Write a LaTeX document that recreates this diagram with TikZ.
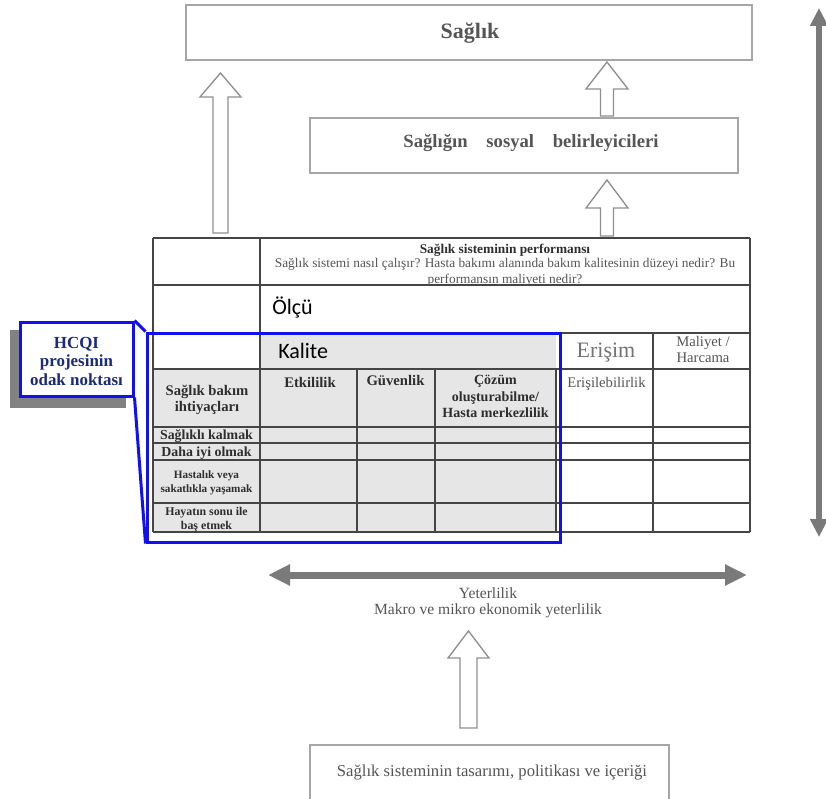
\documentclass[tikz,border=0pt]{standalone}
\usepackage{fontspec}
\setmainfont{Liberation Serif}
\newfontfamily\calib{Carlito}
\usetikzlibrary{arrows.meta}
\definecolor{boxgray}{HTML}{A6A6A6}
\definecolor{arrgray}{HTML}{8F8F8F}
\definecolor{tabline}{HTML}{454545}
\definecolor{txtgray}{HTML}{555555}
\definecolor{darktxt}{HTML}{2E2E2E}
\definecolor{cellgray}{HTML}{E6E6E6}
\definecolor{hqblue}{HTML}{1010F0}
\definecolor{hqnavy}{HTML}{1C2A7A}
\definecolor{bigarrow}{HTML}{7A7A7A}
\definecolor{shadowgray}{HTML}{828282}
\newcommand\setfs[2]{\fontsize{#1}{#2}\selectfont}
\newcommand\blkarrow[6]{\draw[hollowarrow] (#1,#2) -- (#1+#6,#3) -- (#1+#5,#3) -- (#1+#5,#4) -- (#1-#5,#4) -- (#1-#5,#3) -- (#1-#6,#3) -- cycle;}
\begin{document}
\begin{tikzpicture}[x=0.75pt,y=-0.75pt,
  box/.style={draw=boxgray,line width=1.1pt,fill=white,inner sep=0pt},
  hollowarrow/.style={draw=arrgray,line width=1pt,fill=white},
  tline/.style={draw=tabline,line width=0.8pt},
  lbl/.style={inner sep=0pt,text=txtgray,anchor=base},
  hdr/.style={inner sep=0pt,text=darktxt,anchor=base,font=\bfseries\setfs{11}{13}},
  rowlbl/.style={inner sep=0pt,text=darktxt,anchor=base},
  bigarr/.style={draw=bigarrow,line width=5.25pt,{Triangle[length=16.5pt,width=15pt]}-{Triangle[length=16.5pt,width=15pt]}},
  vertarr/.style={draw=bigarrow,line width=4.5pt,{Triangle[length=13.5pt,width=12.75pt]}-{Triangle[length=13.5pt,width=12.75pt]}},
]
\useasboundingbox (0,0) rectangle (826,799);
\fill[white] (0,0) rectangle (826,799);

% top boxes
\node[box,minimum width=424.5pt,minimum height=41.25pt] (saglik) at (469,32.5) {};
\node[lbl,font=\bfseries\setfs{16.5}{19}] (saglikt) at (470,39) {Sağlık};
\node[box,minimum width=321pt,minimum height=41.25pt] (sosyal) at (524,145.5) {};
\node[lbl,font=\bfseries\setfs{14}{17}] (sosyalt) at (531,147) {Sağlığın\hspace{14pt}sosyal\hspace{14pt}belirleyicileri};

% hollow arrows
\blkarrow{220.5}{73}{97}{233}{7.5}{20.5}
\blkarrow{607}{62}{89}{116}{6.5}{21}
\blkarrow{607}{180}{208}{236}{6.5}{21}
\blkarrow{468.5}{631}{658}{728}{8.5}{20.5}

% table fills
\fill[cellgray] (153,369) rectangle (556,532);
\fill[cellgray] (260,333) rectangle (556,369);
% table lines
\foreach \yy in {238,285,333,369,427,443,460,503,532}
  \draw[tline] (153,\yy) -- (750,\yy);
\draw[tline] (153,238) -- (153,532);
\draw[tline] (260,238) -- (260,532);
\draw[tline] (750,238) -- (750,532);
\draw[tline] (653,333) -- (653,532);
\draw[tline] (357,369) -- (357,532);
\draw[tline] (435,369) -- (435,532);
\draw[tline,line width=1.5pt] (556,369) -- (556,532);

% table texts
\node[lbl,text=darktxt,font=\bfseries\setfs{10}{12}] (perf1) at (505,253) {Sağlık sisteminin performansı};
\node[lbl,font=\setfs{10}{12}] (perf2) at (505,267.5) {Sağlık sistemi nasıl çalışır? Hasta bakımı alanında bakım kalitesinin düzeyi nedir? Bu};
\node[lbl,font=\setfs{10}{12}] (perf3) at (505,283) {performansın maliyeti nedir?};
\node[lbl,text=black,anchor=base west,font=\calib\setfs{16.5}{19}] (olcu) at (272,315) {Ölçü};
\node[lbl,text=black,anchor=base west,font=\calib\setfs{16.5}{19}] (kalite) at (278,358) {Kalite};
\node[lbl,text=black!55,font=\setfs{16.5}{19}] (erisim) at (606,357) {Erişim};
\node[lbl,font=\setfs{11}{13}] (maliyet1) at (703,346) {Maliyet /};
\node[lbl,font=\setfs{11}{13}] (maliyet2) at (703,362) {Harcama};
\node[lbl,font=\setfs{11}{13}] (erisil) at (606.5,387) {Erişilebilirlik};

\node[hdr] (etk) at (310,387) {Etkililik};
\node[hdr] (guv) at (395.5,385) {Güvenlik};
\node[hdr,font=\bfseries\setfs{10.5}{12}] (coz1) at (495.5,384) {Çözüm};
\node[hdr,font=\bfseries\setfs{10.5}{12}] (coz2) at (495.5,401) {oluşturabilme/};
\node[hdr,font=\bfseries\setfs{10.5}{12}] (coz3) at (495.5,417) {Hasta merkezlilik};

\node[rowlbl,font=\bfseries\setfs{11}{13}] (ihty1) at (207,395) {Sağlık bakım};
\node[rowlbl,font=\bfseries\setfs{11}{13}] (ihty2) at (207,411) {ihtiyaçları};
\node[rowlbl,font=\bfseries\setfs{10.4}{12}] (row1) at (206.5,439) {Sağlıklı kalmak};
\node[rowlbl,font=\bfseries\setfs{10.4}{12}] (row2) at (206.5,456) {Daha iyi olmak};
\node[rowlbl,font=\bfseries\setfs{8.4}{10}] (row3a) at (206.5,478) {Hastalık veya};
\node[rowlbl,font=\bfseries\setfs{8.4}{10}] (row3b) at (206.5,492) {sakatlıkla yaşamak};
\node[rowlbl,font=\bfseries\setfs{8.9}{10}] (row4a) at (206.5,515) {Hayatın sonu ile};
\node[rowlbl,font=\bfseries\setfs{8.9}{10}] (row4b) at (206.5,529) {baş etmek};

% focus frame and callout
\node[draw=hqblue,line width=2.25pt,minimum width=309.75pt,minimum height=156.75pt,inner sep=0pt] (focus) at (353.5,437.5) {};
\fill[shadowgray] (10,330) rectangle (126,408);
\node[draw=hqblue,line width=2.25pt,fill=white,minimum width=84.75pt,minimum height=55.5pt,inner sep=0pt] (callout) at (76.5,359) {};
\node[inner sep=0pt,anchor=base,text=hqnavy,font=\bfseries\setfs{12.7}{14}] (hc1) at (76.5,348) {HCQI};
\node[inner sep=0pt,anchor=base,text=hqnavy,font=\bfseries\setfs{12.7}{14}] (hc2) at (76.5,366) {projesinin};
\node[inner sep=0pt,anchor=base,text=hqnavy,font=\bfseries\setfs{12.7}{14}] (hc3) at (76.5,385) {odak noktası};
\draw[hqblue,line width=2.25pt] (callout.north east) -- (focus.north west);
\draw[hqblue,line width=2.25pt] (callout.south east) -- (focus.south west);

% big gray arrows
\coordinate (hl) at (268,575);
\coordinate (hr) at (747,575);
\draw[bigarr] (hl) -- (hr);
\coordinate (vt) at (819,8);
\coordinate (vb) at (819,537);
\draw[vertarr] (vt) -- (vb);

\node[lbl,font=\setfs{11.7}{14}] (yet1) at (488,598) {Yeterlilik};
\node[lbl,font=\setfs{11.7}{14}] (yet2) at (488,614) {Makro ve mikro ekonomik yeterlilik};

% bottom box
\node[box,minimum width=269.25pt,minimum height=44pt] (tasarim) at (489.5,774.5) {};
\node[lbl,font=\setfs{12.5}{15}] (tasarimt) at (492,776) {Sağlık sisteminin tasarımı, politikası ve içeriği};
\end{tikzpicture}
\end{document}
